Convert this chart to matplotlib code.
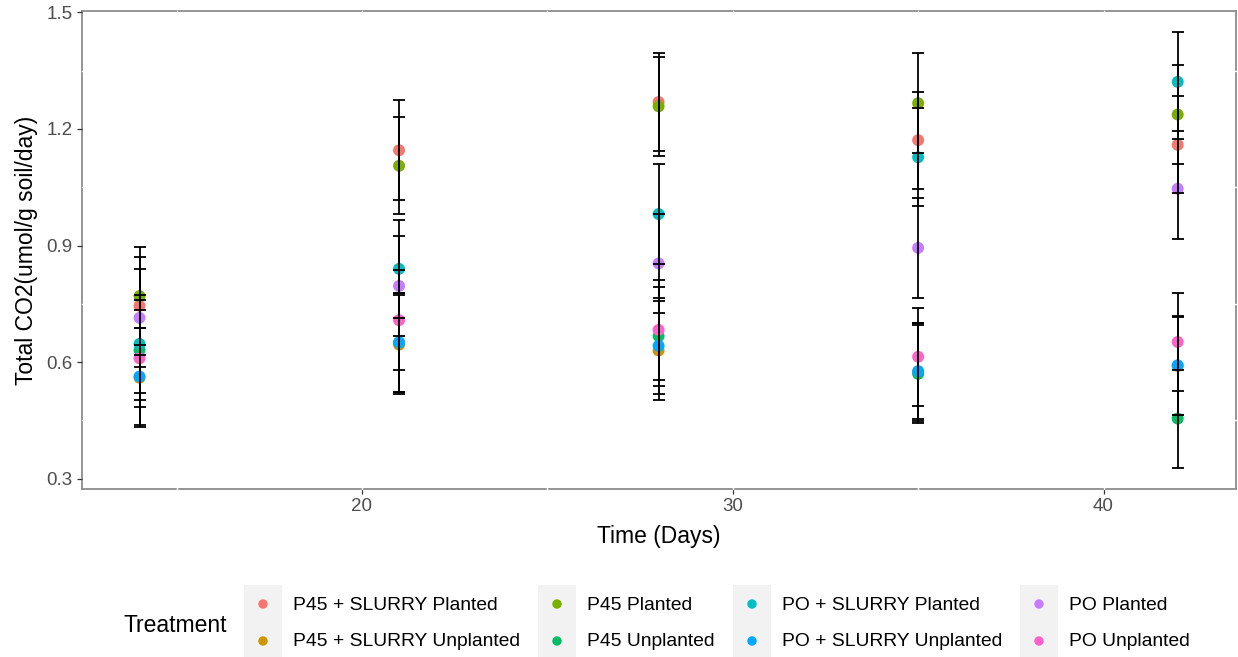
import matplotlib
matplotlib.use("Agg")
import matplotlib.pyplot as plt
from matplotlib.patches import Rectangle
import numpy as np

plt.rcParams['font.family'] = ['Liberation Sans', 'DejaVu Sans']

days = [14, 21, 28, 35, 42]
treatments = ["P45 + SLURRY Planted", "P45 + SLURRY Unplanted", "P45 Planted",
              "P45 Unplanted", "PO + SLURRY Planted", "PO + SLURRY Unplanted",
              "PO Planted", "PO Unplanted"]
colors = ["#F8766D", "#CD9600", "#7CAE00", "#00BE67", "#00BFC4", "#00A9FF",
          "#C77CFF", "#FF61CC"]

mean_p45_slurry_planted = [0.745, 1.145, 1.269, 1.171, 1.159]
mean_p45_slurry_unplanted = [0.560, 0.645, 0.630, 0.575, 0.590]
mean_p45_planted = [0.770, 1.105, 1.258, 1.266, 1.237]
mean_p45_unplanted = [0.631, 0.650, 0.667, 0.570, 0.455]
mean_po_slurry_planted = [0.647, 0.840, 0.981, 1.127, 1.321]
mean_po_slurry_unplanted = [0.563, 0.651, 0.642, 0.577, 0.592]
mean_po_planted = [0.714, 0.796, 0.854, 0.894, 1.046]
mean_po_unplanted = [0.610, 0.708, 0.683, 0.614, 0.652]

se_p45_slurry_planted = [0.126, 0.129, 0.127, 0.125, 0.125]
se_p45_slurry_unplanted = [0.128, 0.127, 0.128, 0.126, 0.126]
se_p45_planted = [0.126, 0.125, 0.128, 0.128, 0.128]
se_p45_unplanted = [0.128, 0.127, 0.127, 0.126, 0.126]
se_po_slurry_planted = [0.126, 0.126, 0.128, 0.126, 0.127]
se_po_slurry_unplanted = [0.125, 0.128, 0.124, 0.124, 0.128]
se_po_planted = [0.126, 0.128, 0.127, 0.128, 0.128]
se_po_unplanted = [0.125, 0.128, 0.128, 0.126, 0.125]

means = [mean_p45_slurry_planted, mean_p45_slurry_unplanted, mean_p45_planted,
         mean_p45_unplanted, mean_po_slurry_planted, mean_po_slurry_unplanted,
         mean_po_planted, mean_po_unplanted]
ses = [se_p45_slurry_planted, se_p45_slurry_unplanted, se_p45_planted,
       se_p45_unplanted, se_po_slurry_planted, se_po_slurry_unplanted,
       se_po_planted, se_po_unplanted]

W, H = 1238, 657
fig = plt.figure(figsize=(W / 100, H / 100), dpi=100)
left, right, top, bottom = 81.5, 1235.7, 10.7, 489.3
ax = fig.add_axes([left / W, 1 - bottom / H, (right - left) / W, (bottom - top) / H])

for m, s, c in zip(means, ses, colors):
    ax.scatter(days, m, s=74, color=c, edgecolors='none', zorder=3)
for m, s in zip(means, ses):
    ax.errorbar(days, m, yerr=s, fmt='none', ecolor='black', elinewidth=1.3,
                capsize=4, capthick=1.3, zorder=4)

# limits like ggplot (5% expansion, errorbar width 0.3)
allm = np.array(means)
alls = np.array(ses)
ylo = (allm - alls).min()
yhi = (allm + alls).max()
yr = yhi - ylo
ax.set_ylim(ylo - 0.05 * yr, yhi + 0.05 * yr)
xlo, xhi = min(days) - 0.15, max(days) + 0.15
xr = xhi - xlo
ax.set_xlim(xlo - 0.05 * xr, xhi + 0.05 * xr)

ax.set_xticks([20, 30, 40])
ax.set_yticks([0.3, 0.6, 0.9, 1.2, 1.5])
ax.set_yticklabels(["0.3", "0.6", "0.9", "1.2", "1.5"])
ax.tick_params(axis='both', length=3.5, width=0.9, color='#333333',
               labelcolor='#4D4D4D', labelsize=13.5, pad=3)

for sp in ax.spines.values():
    sp.set_color('#8C8C8C')
    sp.set_linewidth(1.3)
    sp.set_zorder(1.5)

# white grid lines (only visible where they cross the border), under the data
for xv in [15, 20, 25, 30, 35, 40]:
    ax.axvline(xv, color='white', lw=1.0, zorder=1.7, clip_on=False)
for yv in [0.45, 0.75, 1.05, 1.35]:
    ax.axhline(yv, color='white', lw=1.0, zorder=1.7, clip_on=False)

ax.set_xlabel("Time (Days)", fontsize=16.5, color='black', labelpad=7)
ax.set_ylabel("Total CO2(umol/g soil/day)", fontsize=16.5, color='black', labelpad=6)

# legend drawn in pixel space overlay
ov = fig.add_axes([0, 0, 1, 1], zorder=10)
ov.set_xlim(0, W)
ov.set_ylim(H, 0)
ov.axis('off')
ov.patch.set_alpha(0)

key_x = [244, 538, 733, 1020]
key_w = 38
row_y = [604, 641]
ov.text(123, 625, "Treatment", fontsize=16.5, va='center', ha='left', color='black')
for col in range(4):
    ov.add_patch(Rectangle((key_x[col], 585), key_w, 72, facecolor='#F2F2F2',
                           edgecolor='none'))
for i, (name, c) in enumerate(zip(treatments, colors)):
    col, row = i // 2, i % 2
    ov.scatter([key_x[col] + key_w / 2], [row_y[row]], s=46, color=c,
               edgecolors='none')
    ov.text(key_x[col] + key_w + 11, row_y[row] + 1, name, fontsize=13.9,
            va='center', ha='left', color='black')

fig.savefig("out.png", dpi=100)
